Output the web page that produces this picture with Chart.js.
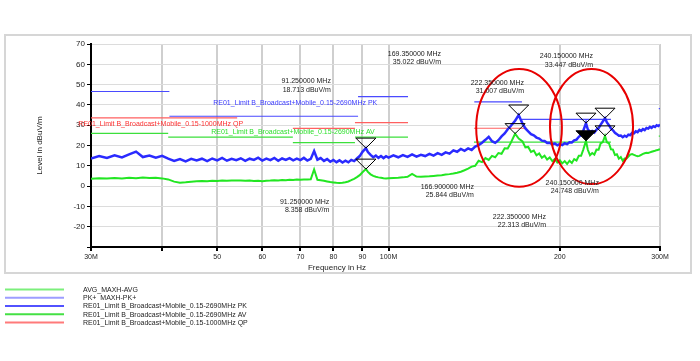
<!DOCTYPE html>
<html>
<head>
<meta charset="utf-8">
<script src="https://cdn.jsdelivr.net/npm/chart.js@4.4.1/dist/chart.umd.min.js"></script>
<style>
  html, body { margin: 0; padding: 0; background: #fff; }
</style>
</head>
<body>
<canvas id="scanChart" width="700" height="361"></canvas>
<script>
// frequency points of the scan (MHz)
const freqMHz = [
  30, 31, 32, 33, 34, 35, 36, 37, 38, 39,
  40, 41, 42, 43, 44, 45, 46, 47, 48, 49,
  50, 51, 52, 53, 54, 55, 56, 57, 58, 59,
  60, 61, 62, 63, 64, 65, 66, 67, 68, 69,
  70, 71, 72, 73, 74, 75, 76, 77, 78, 79,
  80, 81, 82, 83, 84, 85, 86, 87, 88, 89,
  90, 91.25, 92, 93, 94, 95, 96, 97, 98, 99,
  100,
  102, 104, 106, 108, 110, 112, 114, 116, 118, 120,
  122, 124, 126, 128, 130, 132, 134, 136, 138, 140,
  142, 144, 146, 148, 150, 152, 154, 156, 158, 160,
  162, 164,
  166.9, 169.35,
  172, 174, 176, 178, 180, 182, 184, 186, 188, 190,
  192, 194, 196, 198, 200, 202, 204, 206, 208, 210,
  212, 214, 216, 218, 220,
  222.35,
  224, 226, 228, 230, 232, 234, 236, 238,
  240.15,
  242, 244, 246, 248, 250, 252, 254, 256, 258, 260,
  262, 264, 266, 268, 270, 272, 274, 276, 278, 280,
  282, 284, 286, 288, 290, 292, 294, 296, 298, 300
];

// PK+ MAXH-PK+ (dBuV/m)
const pkLevel = [
  13.6, 14.8, 13.9, 15.2, 14.1, 15.6, 17.0, 14.3, 15.1, 14.0,
  14.9, 13.5, 12.4, 13.3, 12.2, 13.4, 12.6, 13.5, 12.3, 13.6,
  12.7, 13.9, 12.5, 13.4, 12.8, 13.7, 12.4, 13.5, 12.9, 14.0,
  12.6, 13.5, 12.8, 13.9, 12.5, 13.6, 12.9, 13.8, 12.7, 13.5,
  12.8, 13.9, 12.6, 13.4, 17.3, 13.0, 13.8, 12.4, 13.3, 12.0,
  12.9, 11.8, 12.7, 11.6, 12.5, 11.7, 12.9, 12.3, 13.6, 14.8,
  16.9, 18.7, 16.8, 15.4, 14.2, 15.0, 13.9, 14.8, 13.8, 14.7,
  14.0,
  15.1, 14.2, 15.3, 14.4, 15.6, 14.5, 15.4, 14.8, 15.9, 15.0,
  16.2, 15.4, 16.6, 16.0, 17.6, 16.9, 18.3, 17.4, 18.6, 17.8,
  19.5, 20.2, 21.4, 22.8, 24.3, 22.1, 21.3, 22.6, 24.5, 25.9,
  28.0, 29.6,
  32.2, 35.0,
  30.8, 28.4, 27.0, 25.6, 25.0, 23.9, 23.4, 22.4, 22.2, 21.3,
  21.4, 20.6, 21.0, 20.1, 20.8, 20.2, 21.1, 20.7, 21.6, 21.5,
  22.5, 22.9, 24.3, 25.2, 27.4,
  31.0,
  28.0, 26.6, 27.2, 26.4, 27.8, 28.6, 30.3, 31.8,
  33.4,
  31.4, 30.0, 28.4, 27.5, 26.3, 25.6, 24.8, 24.9, 24.1, 24.8,
  24.3, 25.3, 25.1, 26.2, 26.0, 27.0, 26.6, 27.7, 27.2, 28.1,
  27.6, 28.6, 28.3, 29.2, 28.7, 29.5, 29.1, 30.0, 29.6, 30.3
];

// AVG_MAXH-AVG (dBuV/m)
const avgLevel = [
  3.6, 3.9, 3.7, 4.0, 3.8, 4.1, 3.9, 4.2, 4.0, 4.1,
  3.8, 3.3, 2.2, 1.7, 1.9, 2.2, 2.4, 2.5, 2.4, 2.6,
  2.5, 2.7, 2.6, 2.8, 2.7, 2.8, 2.6, 2.7, 2.5, 2.6,
  2.4, 2.6, 2.7, 2.9, 2.8, 3.0, 2.9, 3.1, 3.0, 3.2,
  3.1, 3.3, 3.2, 3.3, 8.2, 3.1, 2.9, 2.6, 2.3, 2.0,
  1.8, 1.6, 1.5, 1.6, 1.9, 2.3, 2.9, 3.6, 4.4, 5.4,
  6.8, 8.4, 7.0, 5.8, 5.0, 4.6, 4.3, 4.1, 3.9, 3.8,
  3.9,
  4.0, 4.1, 4.3, 4.6, 6.0, 4.7, 4.6, 4.7, 4.8, 5.0,
  5.2, 5.4, 5.7, 5.9, 6.2, 6.6, 7.1, 7.8, 8.6, 9.6,
  10.0, 12.5, 11.8, 13.8, 12.9, 14.9, 14.2, 16.3, 15.9, 18.6,
  18.5, 21.3,
  25.8, 23.4,
  22.0, 19.1, 19.3, 16.8, 17.5, 15.2, 16.1, 14.0, 15.0, 13.1,
  14.1, 12.3, 13.4, 11.6, 12.7, 11.2, 12.3, 10.9, 12.5, 11.4,
  13.3, 12.6, 14.9, 14.9, 18.1,
  22.3,
  17.9, 15.2, 16.3, 15.5, 18.0, 17.9, 21.1, 21.7,
  24.7,
  21.6, 21.1, 18.1, 18.0, 15.3, 15.7, 13.5, 14.3, 12.5, 13.6,
  13.6, 14.6, 15.5, 15.8, 15.4, 15.0, 14.7, 14.9, 15.4, 15.9,
  16.2, 16.4, 16.3, 16.6, 16.9, 17.2, 17.4, 17.7, 17.9, 18.2
];

// limit lines: [from MHz, to MHz, level dBuV/m]
const pkLimit = [[30, 41.2, 46.6], [41.2, 88.4, 34.4], [88.4, 108.2, 44.1], [141.5, 171.6, 41.5], [171.6, 246, 32.9], [298.5, 300, 38.2]];
const avLimit = [[30, 41, 26.0], [41, 67.9, 24.1], [67.9, 87.3, 21.4], [87.3, 108.2, 24.1], [141.3, 246, 21.7], [298.5, 300, 24.6]];
const qpLimit = [[30, 54.2, 33.6], [67.9, 87.3, 28.4], [87.3, 108.2, 31.3], [141.3, 175.2, 28.5]];

// markers: [MHz, dBuV/m, filled]
const pkMarkers = [[91.25, 18.713, false], [169.35, 35.022, false], [222.35, 31.007, false], [240.15, 33.447, false]];
const avMarkers = [[91.25, 8.358, false], [166.9, 25.844, false], [222.35, 22.313, true], [240.15, 24.748, false]];

// marker readouts: [right edge MHz, level of first line, text lines]
const markerNotes = [
  [79.2, 51.5, ['91.250000 MHz', '18.713 dBuV/m']],
  [123.7, 65.2, ['169.350000 MHz', '35.022 dBuV/m']],
  [173.0, 51.0, ['222.350000 MHz', '31.007 dBuV/m']],
  [228.8, 63.9, ['240.150000 MHz', '33.447 dBuV/m']],
  [78.7, -7.8, ['91.250000 MHz', '8.358 dBuV/m']],
  [141.3, -0.3, ['166.900000 MHz', '25.844 dBuV/m']],
  [234.3, 1.6, ['240.150000 MHz', '24.748 dBuV/m']],
  [189.2, -15.2, ['222.350000 MHz', '22.313 dBuV/m']]
];

// limit labels inside the plot: [left MHz, level, text, colour]
const limitNotes = [
  [49.2, 40.9, 'RE01_Limit B_Broadcast+Mobile_0.15-2690MHz PK', '#3a3aff'],
  [28.5, 30.5, 'RE01_Limit B_Broadcast+Mobile_0.15-1000MHz QP', '#ff3030'],
  [48.8, 26.8, 'RE01_Limit B_Broadcast+Mobile_0.15-2690MHz AV', '#2ee02e']
];

// highlighted areas: [left MHz, right MHz, top level, bottom level]
const circles = [[142.6, 201.7, 57.7, -0.3], [192.2, 269.0, 57.7, 1.0]];

const xTickValues = [30, 40, 50, 60, 70, 80, 90, 100, 200, 300];
const xTickLabels = ['30M', '', '50', '60', '70', '80', '90', '100M', '200', '300M'];

const FONT = '"Liberation Sans", Arial, sans-serif';

function tracePoints(xs, ys) {
  return xs.map((f, i) => ({x: f, y: ys[i]}));
}
function limitPoints(segs) {
  const pts = [];
  segs.forEach(s => {
    pts.push({x: s[0], y: s[2]});
    pts.push({x: s[1], y: s[2]});
    pts.push({x: s[1], y: null});
  });
  return pts;
}

const overlay = {
  id: 'overlay',
  afterDatasetsDraw(chart) {
    const ctx = chart.ctx;
    const xs = chart.scales.x, ys = chart.scales.y;
    ctx.save();
    // red circles
    ctx.strokeStyle = '#e80000';
    ctx.lineWidth = 2;
    circles.forEach(c => {
      const l = xs.getPixelForValue(c[0]), r = xs.getPixelForValue(c[1]);
      const t = ys.getPixelForValue(c[2]), b = ys.getPixelForValue(c[3]);
      ctx.beginPath();
      ctx.ellipse((l + r) / 2, (t + b) / 2, (r - l) / 2, (b - t) / 2, 0, 0, Math.PI * 2);
      ctx.stroke();
    });
    // marker triangles
    ctx.lineWidth = 1;
    ctx.strokeStyle = '#000';
    pkMarkers.concat(avMarkers).forEach(m => {
      const px = xs.getPixelForValue(m[0]), py = ys.getPixelForValue(m[1]);
      ctx.beginPath();
      ctx.moveTo(px - 10, py - 10);
      ctx.lineTo(px + 10, py - 10);
      ctx.lineTo(px, py);
      ctx.closePath();
      if (m[2]) { ctx.fillStyle = '#000'; ctx.fill(); }
      ctx.stroke();
    });
    // marker readouts
    ctx.font = '7px ' + FONT;
    ctx.fillStyle = '#222';
    ctx.textAlign = 'right';
    ctx.textBaseline = 'middle';
    markerNotes.forEach(n => {
      const px = xs.getPixelForValue(n[0]), py = ys.getPixelForValue(n[1]);
      n[2].forEach((line, i) => ctx.fillText(line, px, py + i * 8.5));
    });
    // limit labels
    ctx.textAlign = 'left';
    limitNotes.forEach(n => {
      ctx.fillStyle = n[3];
      ctx.fillText(n[2], xs.getPixelForValue(n[0]), ys.getPixelForValue(n[1]));
    });
    ctx.restore();
  },
  afterDraw(chart) {
    const ctx = chart.ctx;
    const area = chart.chartArea;
    ctx.save();
    // x axis title
    ctx.font = '8px ' + FONT;
    ctx.fillStyle = '#222';
    ctx.textAlign = 'center';
    ctx.textBaseline = 'middle';
    ctx.fillText('Frequency in Hz', 337, area.bottom + 21);
    // frame
    ctx.strokeStyle = '#d6d6d6';
    ctx.lineWidth = 2;
    ctx.strokeRect(5, 35, 686, 238);
    // legend
    ctx.font = '7px ' + FONT;
    ctx.textAlign = 'left';
    chart.data.datasets.forEach((ds, i) => {
      const y = 289.5 + i * 8.25;
      ctx.strokeStyle = ds.legendColor;
      ctx.lineWidth = 2;
      ctx.beginPath();
      ctx.moveTo(5, y);
      ctx.lineTo(64, y);
      ctx.stroke();
      ctx.fillStyle = '#222';
      ctx.fillText(ds.label, 83, y + 0.5);
    });
    ctx.restore();
  }
};

new Chart(document.getElementById('scanChart'), {
  type: 'line',
  data: {
    datasets: [
      {label: 'AVG_MAXH-AVG', data: tracePoints(freqMHz, avgLevel), borderColor: '#22e622', legendColor: '#7cef7c', borderWidth: 2},
      {label: 'PK+  MAXH-PK+', data: tracePoints(freqMHz, pkLevel), borderColor: '#2a2aff', legendColor: '#9d9dff', borderWidth: 2.5},
      {label: 'RE01_Limit B_Broadcast+Mobile_0.15-2690MHz PK', data: limitPoints(pkLimit), borderColor: '#4a4aff', legendColor: '#5252ff', borderWidth: 1.2},
      {label: 'RE01_Limit B_Broadcast+Mobile_0.15-2690MHz AV', data: limitPoints(avLimit), borderColor: '#3ce03c', legendColor: '#44e044', borderWidth: 1.2},
      {label: 'RE01_Limit B_Broadcast+Mobile_0.15-1000MHz QP', data: limitPoints(qpLimit), borderColor: '#ff6060', legendColor: '#ff7a7a', borderWidth: 1.2}
    ]
  },
  options: {
    responsive: false,
    animation: false,
    devicePixelRatio: 1,
    layout: {padding: {top: 44, right: 40, bottom: 88, left: 0}},
    elements: {point: {radius: 0}, line: {tension: 0}},
    plugins: {legend: {display: false}, tooltip: {enabled: false}},
    scales: {
      x: {
        type: 'logarithmic',
        min: 30,
        max: 300,
        afterBuildTicks: s => { s.ticks = xTickValues.map(v => ({value: v})); },
        afterFit: s => { s.height = 26; },
        ticks: {
          autoSkip: false, maxRotation: 0, padding: 2, color: '#222',
          font: {family: FONT, size: 7},
          callback: (v, i) => xTickLabels[i]
        },
        grid: {color: '#cfcfcf', lineWidth: 2, tickColor: '#000', tickLength: 4},
        border: {color: '#000', width: 2}
      },
      y: {
        min: -30,
        max: 70,
        afterFit: s => { s.width = 91; },
        ticks: {
          stepSize: 5, padding: 2, color: '#222',
          font: {family: FONT, size: 8},
          callback: v => (v % 10 === 0 && v > -30) ? v : ''
        },
        grid: {color: '#dcdcdc', lineWidth: 1, tickColor: '#000', tickLength: 4},
        border: {color: '#000', width: 2},
        title: {display: true, text: 'Level in dBuV/m', color: '#222', font: {family: FONT, size: 8}, padding: {top: 35, bottom: 0}}
      }
    }
  },
  plugins: [overlay]
});
</script>
</body>
</html>
